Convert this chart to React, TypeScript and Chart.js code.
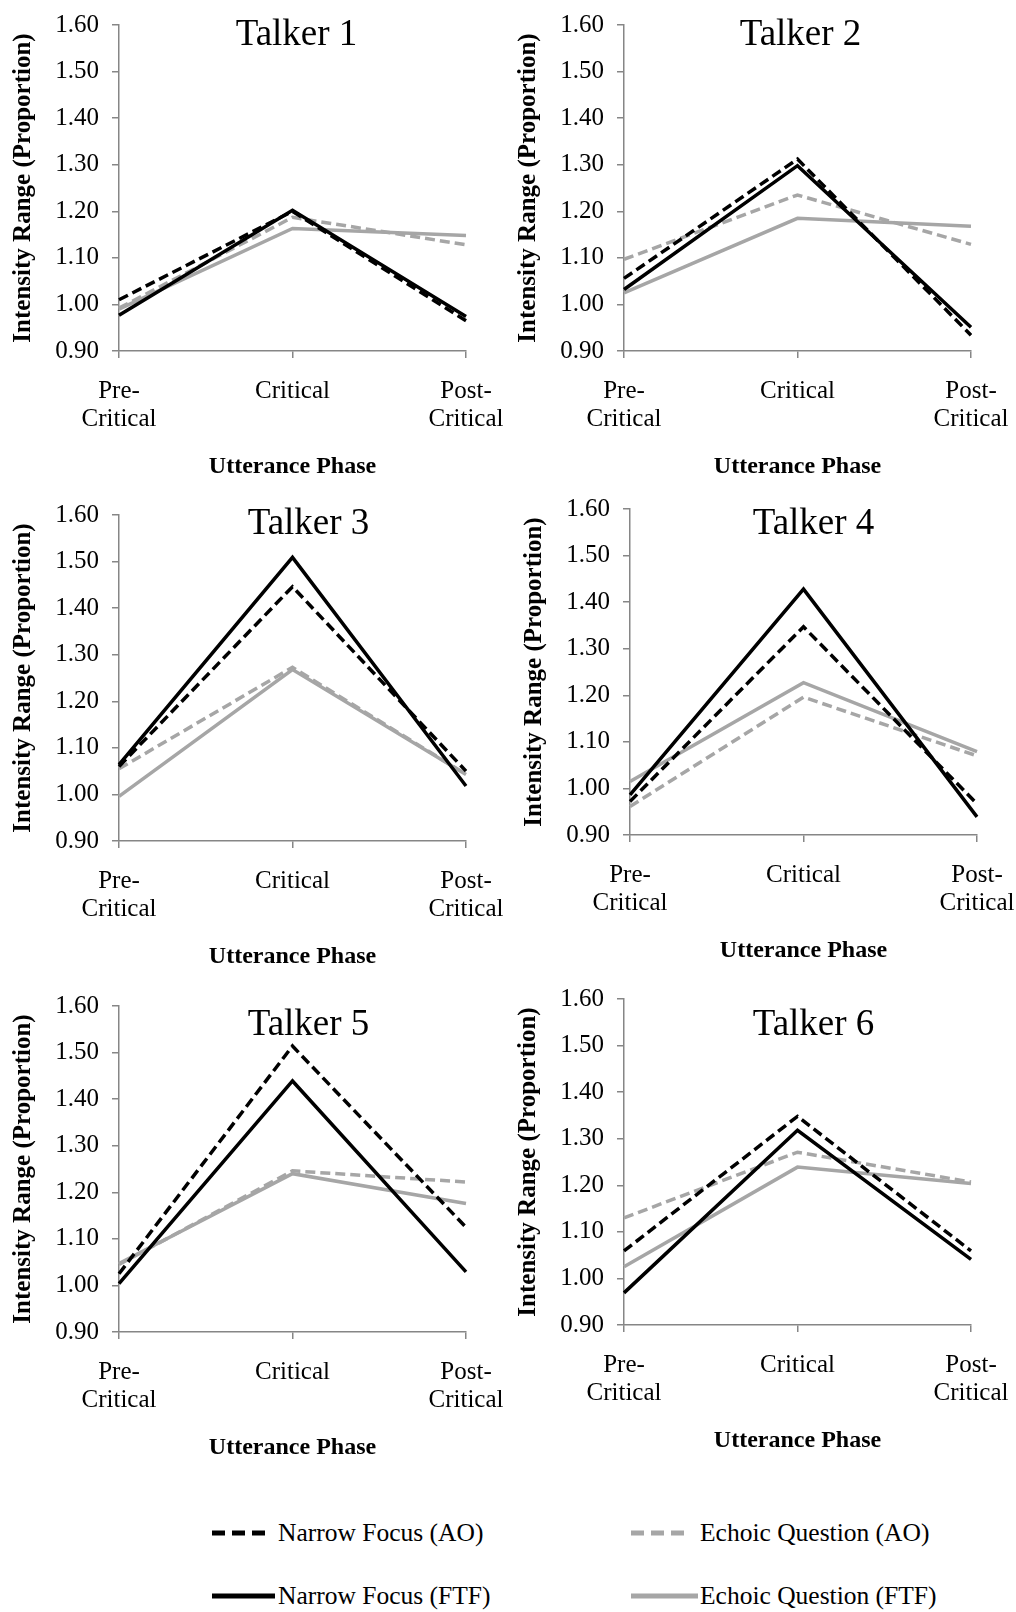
import React, { useEffect, useRef } from "react";
import { Chart, registerables } from "chart.js";

Chart.register(...registerables);

// ---------------- data ----------------
const categories: (string | string[])[] = [["Pre-", "Critical"], "Critical", ["Post-", "Critical"]];
const talkers = ["Talker 1", "Talker 2", "Talker 3", "Talker 4", "Talker 5", "Talker 6"];
const yTickLabels = ["0.90", "1.00", "1.10", "1.20", "1.30", "1.40", "1.50", "1.60"];
const yAxisTitle = "Intensity Range (Proportion)";
const xAxisTitle = "Utterance Phase";
const seriesNames = ["Narrow Focus (AO)", "Narrow Focus (FTF)", "Echoic Question (AO)", "Echoic Question (FTF)"];

// one row per talker: [Pre-Critical, Critical, Post-Critical]
const narrowFocusAO = [
  [1.01, 1.2, 0.965],
  [1.056, 1.312, 0.934],
  [1.06, 1.446, 1.05],
  [0.972, 1.347, 0.967],
  [1.025, 1.514, 1.125],
  [1.059, 1.348, 1.059],
];
const narrowFocusFTF = [
  [0.977, 1.202, 0.974],
  [1.032, 1.298, 0.951],
  [1.064, 1.509, 1.018],
  [0.986, 1.428, 0.939],
  [1.004, 1.439, 1.029],
  [0.969, 1.318, 1.041],
];
const echoicAO = [
  [0.992, 1.187, 1.128],
  [1.097, 1.235, 1.129],
  [1.055, 1.273, 1.043],
  [0.961, 1.196, 1.07],
  [1.045, 1.246, 1.222],
  [1.13, 1.271, 1.207],
];
const echoicFTF = [
  [0.99, 1.163, 1.148],
  [1.025, 1.185, 1.168],
  [0.996, 1.268, 1.043],
  [1.015, 1.227, 1.079],
  [1.047, 1.24, 1.176],
  [1.025, 1.239, 1.204],
];
const seriesData = [narrowFocusAO, narrowFocusFTF, echoicAO, echoicFTF];

// ---------------- styles / layout ----------------
const FONT = "'Liberation Serif', 'Times New Roman', serif";
const BLACK = "#000000";
const GRAY = "#a6a6a6";
const AXIS = "#868686";
const seriesColors = [BLACK, BLACK, GRAY, GRAY];
const seriesDashed = [true, false, true, false];

const CW = 508;
const CH = 500;
const PLOT_L = 119;
const PLOT_T = 30;
const PLOT_R = 42;
const PLOT_H = 326;

// plot-area top-left position of each panel on the page
const panelPos = [
  { x: 119, y: 25 },
  { x: 624, y: 25 },
  { x: 119, y: 515 },
  { x: 630, y: 509 },
  { x: 119, y: 1006 },
  { x: 624, y: 999 },
];
// title offset relative to plot-area top / centre
const titleOff = [
  { dx: 4, dy: 10 },
  { dx: 3, dy: 10 },
  { dx: 16, dy: 9 },
  { dx: 10, dy: 15 },
  { dx: 16, dy: 19 },
  { dx: 16, dy: 26 },
];

const panelTitlePlugin = {
  id: "panelTitle",
  afterDraw(chart: any, _args: any, opts: any) {
    const { ctx, chartArea } = chart;
    ctx.save();
    ctx.font = `37px ${FONT}`;
    ctx.fillStyle = "#000";
    ctx.textAlign = "center";
    ctx.textBaseline = "middle";
    ctx.fillText(opts.text, (chartArea.left + chartArea.right) / 2 + opts.dx, chartArea.top + opts.dy);
    ctx.restore();
  },
};

function Panel({ idx }: { idx: number }) {
  const ref = useRef<HTMLCanvasElement | null>(null);
  useEffect(() => {
    if (!ref.current) return;
    const chart = new Chart(ref.current, {
      type: "line",
      data: {
        labels: categories as any,
        datasets: seriesNames.map((name, s) => ({
          label: name,
          data: seriesData[s][idx],
          borderColor: seriesColors[s],
          backgroundColor: seriesColors[s],
          borderWidth: 3.5,
          borderDash: seriesDashed[s] ? [10, 5] : [],
          pointRadius: 0,
          tension: 0,
          fill: false,
        })),
      },
      options: {
        responsive: false,
        animation: false,
        devicePixelRatio: 1,
        layout: { padding: { left: 0, top: PLOT_T, right: PLOT_R, bottom: 0 } },
        plugins: {
          legend: { display: false },
          tooltip: { enabled: false },
          panelTitle: { text: talkers[idx], dx: titleOff[idx].dx, dy: titleOff[idx].dy },
        } as any,
        scales: {
          x: {
            type: "category",
            offset: false,
            grid: { display: true, drawOnChartArea: false, drawTicks: true, tickLength: 7, color: AXIS, lineWidth: 1.5 },
            border: { display: true, color: AXIS, width: 1.5 },
            ticks: {
              color: "#000",
              font: { family: FONT, size: 25, lineHeight: 1.12 },
              padding: 19,
              maxRotation: 0,
              autoSkip: false,
            },
            title: {
              display: true,
              text: xAxisTitle,
              color: "#000",
              font: { family: FONT, size: 24, weight: "bold", lineHeight: 1.2 },
              padding: { top: 0, bottom: 14 },
            },
            afterFit: (s: any) => {
              s.height = CH - PLOT_T - PLOT_H;
              s.paddingLeft = 0;
              s.paddingRight = 0;
            },
          },
          y: {
            min: 0.9,
            max: 1.6,
            grid: { display: true, drawOnChartArea: false, drawTicks: true, tickLength: 7, color: AXIS, lineWidth: 1.5 },
            border: { display: true, color: AXIS, width: 1.5 },
            ticks: {
              stepSize: 0.1,
              color: "#000",
              font: { family: FONT, size: 25 },
              padding: 13,
              callback: (v: any) => {
                const i = Math.round((Number(v) - 0.9) * 10);
                return yTickLabels[i] ?? Number(v).toFixed(2);
              },
            },
            title: {
              display: true,
              text: yAxisTitle,
              color: "#000",
              font: { family: FONT, size: 25, weight: "bold", lineHeight: 1.2 },
              padding: { top: 9, bottom: 0 },
            },
            afterFit: (s: any) => {
              s.width = PLOT_L;
            },
          },
        },
      } as any,
      plugins: [panelTitlePlugin as any],
    });
    return () => chart.destroy();
  }, [idx]);
  const pos = panelPos[idx];
  return (
    <canvas
      ref={ref}
      width={CW}
      height={CH}
      style={{ position: "absolute", left: pos.x - PLOT_L, top: pos.y - PLOT_T, width: CW, height: CH }}
    />
  );
}

// legend placement
const legendCells = [
  { x: 212, y: 1533, w: 53, textX: 278 },
  { x: 212, y: 1596, w: 63, textX: 278 },
  { x: 631, y: 1533, w: 56, textX: 700 },
  { x: 631, y: 1596, w: 67, textX: 700 },
];

function LegendItem({ s }: { s: number }) {
  const c = legendCells[s];
  return (
    <div style={{ position: "absolute", left: c.x, top: c.y - 20, height: 40, width: 360 }}>
      <svg width={c.w} height={10} style={{ position: "absolute", left: 0, top: 15 }}>
        <line
          x1={0}
          y1={5}
          x2={c.w}
          y2={5}
          stroke={seriesColors[s]}
          strokeWidth={5}
          strokeDasharray={seriesDashed[s] ? "13 7" : undefined}
        />
      </svg>
      <span
        style={{
          position: "absolute",
          left: c.textX - c.x,
          top: 0,
          height: 40,
          lineHeight: "40px",
          fontFamily: FONT,
          fontSize: 25.5,
          color: "#000",
          whiteSpace: "nowrap",
        }}
      >
        {seriesNames[s]}
      </span>
    </div>
  );
}

export default function App() {
  return (
    <div
      style={{
        position: "absolute",
        left: 0,
        top: 0,
        width: 1016,
        height: 1612,
        background: "#ffffff",
        overflow: "hidden",
      }}
    >
      {talkers.map((_, i) => (
        <Panel key={i} idx={i} />
      ))}
      {seriesNames.map((_, s) => (
        <LegendItem key={s} s={s} />
      ))}
    </div>
  );
}
